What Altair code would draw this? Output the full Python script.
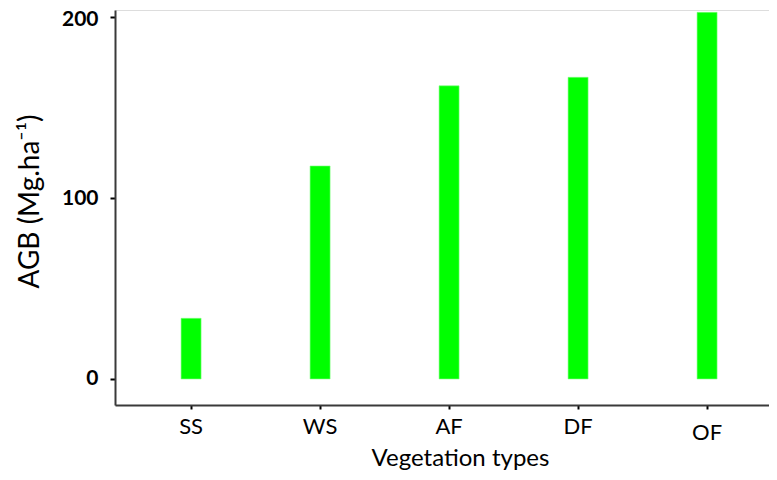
import altair as alt
import pandas as pd

categories = ["SS", "WS", "AF", "DF", "OF"]
agb = [33.5, 117.7, 162.0, 166.7, 202.6]

df = pd.DataFrame({"type": categories, "agb": agb})

chart = alt.Chart(df).mark_bar(color="#00ff00", stroke="#7dff7d", strokeWidth=0.6).encode(
    x=alt.X(
        "type:N",
        sort=categories,
        scale=alt.Scale(paddingInner=0.845, paddingOuter=0.4574, align=0.56),
        axis=alt.Axis(
            title="Vegetation types",
            titleFont="Lato",
            titleFontSize=24,
            titleFontWeight="normal",
            titleColor="#000000",
            titleX=345,
            titleY=60,
            titleAlign="center",
            titleBaseline="alphabetic",
            labelAngle=0,
            labelFont="Lato",
            labelFontSize=22,
            labelColor="#000000",
            labelPadding=alt.expr("datum.value == 'OF' ? 13 : 7"),
            tickSize=4,
            tickColor="#000000",
            tickWidth=2,
            domainColor="#3a3a3a",
            domainWidth=2,
            grid=False,
        ),
    ),
    y=alt.Y(
        "agb:Q",
        scale=alt.Scale(domain=[-14.4, 203.9], nice=False, zero=False),
        axis=alt.Axis(
            title="AGB (Mg.ha⁻¹)",
            titleFont="Lato",
            titleFontSize=28,
            titleFontWeight="normal",
            titleColor="#000000",
            titleX=-85,
            titleY=191,
            titleAlign="center",
            titleBaseline="middle",
            titleAngle=270,
            values=[0, 100, 200],
            labelFont="Lato",
            labelFontSize=21,
            labelFontWeight="bold",
            labelColor="#000000",
            labelPadding=12,
            labelOffset=alt.expr("datum.value == 200 ? 2 : 0"),
            tickSize=5,
            tickColor="#000000",
            tickWidth=2,
            domainColor="#3a3a3a",
            domainWidth=2,
            grid=False,
        ),
    ),
).properties(
    width=654,
    height=395,
    padding={"left": 107, "top": 2, "right": 0, "bottom": 66},
    autosize=alt.AutoSizeParams(type="none"),
).configure_view(stroke=None).configure(background="white")

chart.save("out.html", embed_options={"renderer": "svg", "actions": False})
